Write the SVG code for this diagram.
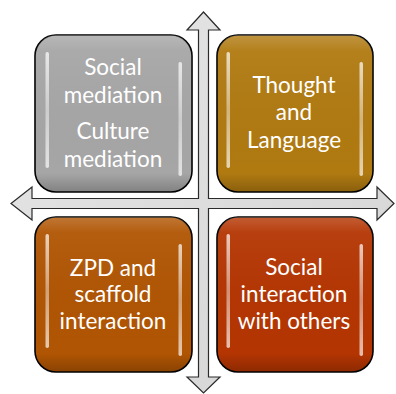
<svg xmlns="http://www.w3.org/2000/svg" width="396" height="394" viewBox="0 0 396 394">
  <defs>
    <linearGradient id="gloss" x1="0" y1="0" x2="0" y2="1">
      <stop offset="0" stop-color="#fff" stop-opacity="0.2"/>
      <stop offset="0.1" stop-color="#fff" stop-opacity="0.05"/>
      <stop offset="0.88" stop-color="#000" stop-opacity="0"/>
      <stop offset="1" stop-color="#000" stop-opacity="0.22"/>
    </linearGradient>
    <linearGradient id="hl" x1="0" y1="0" x2="0" y2="1">
      <stop offset="0" stop-color="#fff" stop-opacity="0.9"/>
      <stop offset="0.5" stop-color="#fff" stop-opacity="0.55"/>
      <stop offset="1" stop-color="#fff" stop-opacity="0.85"/>
    </linearGradient>
    <linearGradient id="arrowfill" x1="0" y1="0" x2="1" y2="1">
      <stop offset="0" stop-color="#e6e6e6"/>
      <stop offset="1" stop-color="#d4d4d4"/>
    </linearGradient>
  </defs>
  <style>
    .box { stroke: #000; stroke-width: 1.6; }
    .gl { fill: url(#gloss); }
    .hl { fill: url(#hl); }
    .lbl { font-family: Lato, "Open Sans", "DejaVu Sans", sans-serif; font-size: 22.5px; fill: #fff; text-anchor: middle; }
  </style>
  <rect width="396" height="394" fill="#fff"/>

  <g id="connectors">
    <path d="M203.5,12 L220,30 L208.5,30 L208.5,198.5 L377,198.5 L377,187 L394,203.5 L377,220 L377,208.5 L208.5,208.5 L208.5,377 L220,377 L203.5,393 L187,377 L198.5,377 L198.5,208.5 L32,208.5 L32,220 L11,203.5 L32,187 L32,198.5 L198.5,198.5 L198.5,30 L187,30 Z" fill="url(#arrowfill)" stroke="#2a2a2a" stroke-width="1.2" stroke-linejoin="miter"/>
  </g>

  <g id="node-social-mediation">
    <rect class="box" x="35" y="35" width="157" height="157" rx="21" fill="#a6a6a6"/>
    <rect class="gl" x="35" y="35" width="157" height="157" rx="21"/>
    <rect class="hl" x="45.5" y="52" width="3.5" height="116" rx="1.7" opacity="0.8"/>
    <rect class="hl" x="178.5" y="62" width="3.5" height="114" rx="1.7" opacity="0.8"/>
    <text class="lbl" x="113" y="75">Social</text>
    <text class="lbl" x="113" y="103">mediation</text>
    <text class="lbl" x="113" y="139">Culture</text>
    <text class="lbl" x="113" y="167">mediation</text>
  </g>

  <g id="node-thought-language">
    <rect class="box" x="217" y="35" width="156" height="157" rx="21" fill="#b07a11"/>
    <rect class="gl" x="217" y="35" width="156" height="157" rx="21"/>
    <rect class="hl" x="226.5" y="52" width="3.5" height="116" rx="1.7" opacity="0.8"/>
    <rect class="hl" x="359.5" y="62" width="3.5" height="114" rx="1.7" opacity="0.8"/>
    <text class="lbl" x="294" y="93">Thought</text>
    <text class="lbl" x="294" y="120">and</text>
    <text class="lbl" x="294" y="148">Language</text>
  </g>

  <g id="node-zpd-scaffold">
    <rect class="box" x="35" y="217" width="157" height="155" rx="21" fill="#b05503"/>
    <rect class="gl" x="35" y="217" width="157" height="155" rx="21"/>
    <rect class="hl" x="45.5" y="234" width="3.5" height="114" rx="1.7" opacity="0.8"/>
    <rect class="hl" x="178.5" y="244" width="3.5" height="112" rx="1.7" opacity="0.8"/>
    <text class="lbl" x="113" y="276">ZPD and</text>
    <text class="lbl" x="113" y="302">scaffold</text>
    <text class="lbl" x="113" y="329">interaction</text>
  </g>

  <g id="node-social-interaction">
    <rect class="box" x="217" y="217" width="156" height="155" rx="21" fill="#b43502"/>
    <rect class="gl" x="217" y="217" width="156" height="155" rx="21"/>
    <rect class="hl" x="226.5" y="234" width="3.5" height="114" rx="1.7" opacity="0.8"/>
    <rect class="hl" x="359.5" y="244" width="3.5" height="112" rx="1.7" opacity="0.8"/>
    <text class="lbl" x="294" y="275">Social</text>
    <text class="lbl" x="294" y="302">interaction</text>
    <text class="lbl" x="294" y="329">with others</text>
  </g>
</svg>
